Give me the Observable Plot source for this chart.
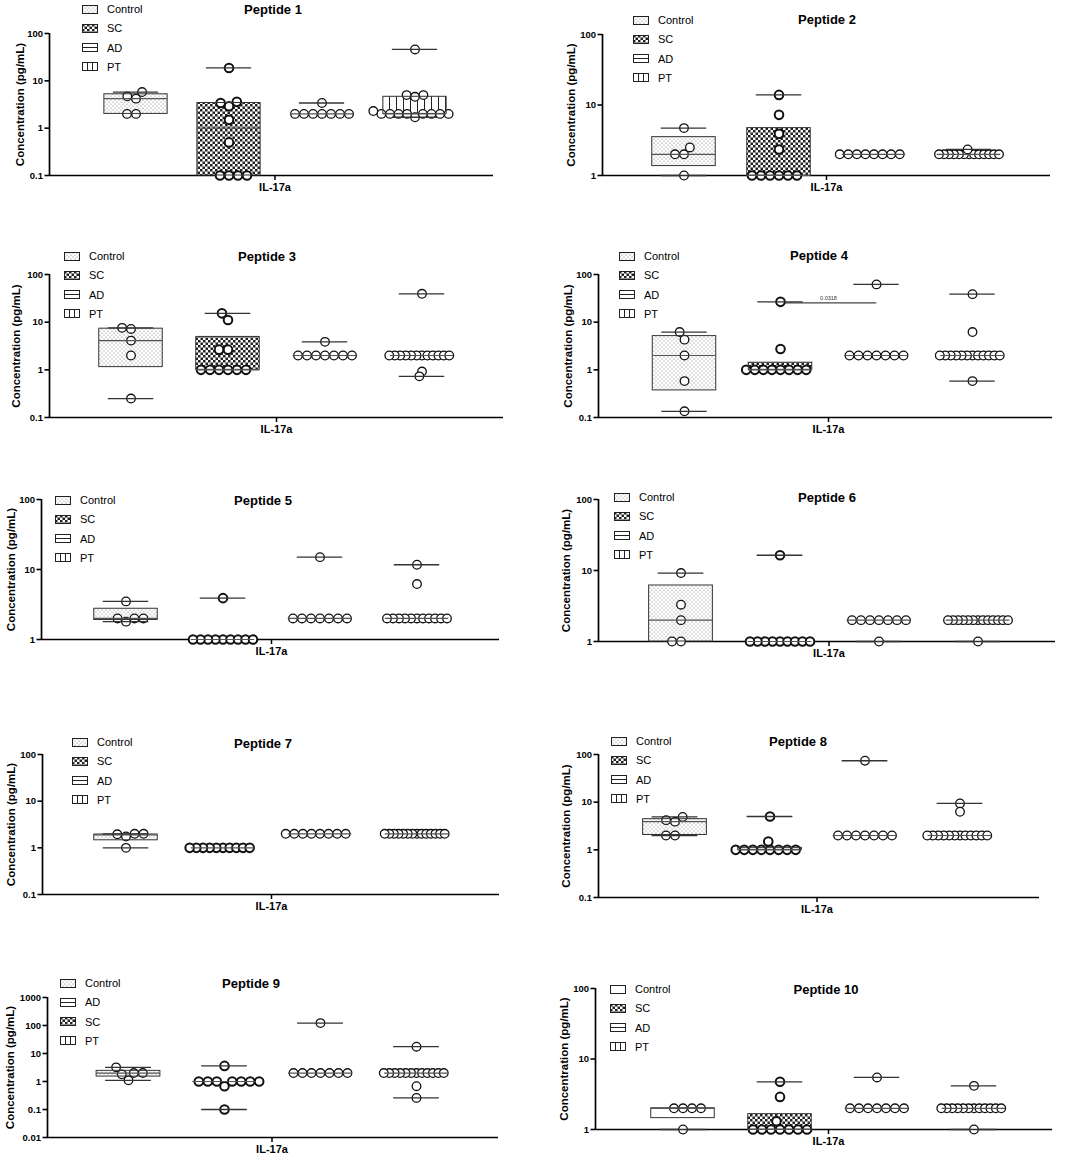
<!DOCTYPE html>
<html>
<head>
<meta charset="utf-8">
<script src="https://cdn.jsdelivr.net/npm/d3@7"></script>
<script src="https://cdn.jsdelivr.net/npm/@observablehq/plot@0.6"></script>
<style>
  body { margin: 0; background: #fff; font-family: "Liberation Sans", Arial, Helvetica, sans-serif; }
  #page { position: relative; width: 1084px; height: 1156px; overflow: hidden; background: #fff; }
  .panel { position: absolute; }
  .panel > svg { position: absolute; left: 0; top: 0; overflow: visible; }
  .title { position: absolute; font-weight: bold; font-size: 13px; transform: translate(-50%, -50%); white-space: nowrap; color: #000; }
  .leg { position: absolute; font-size: 11px; display: flex; align-items: center; transform: translateY(-50%); white-space: nowrap; color: #000; }
  .leg svg { margin-right: 9px; display: block; }
</style>
</head>
<body>
<svg width="0" height="0" style="position:absolute;left:0;top:0">
  <defs>
    <pattern id="pat-dots" patternUnits="userSpaceOnUse" width="4" height="4">
      <rect width="4" height="4" fill="#fff"/>
      <circle cx="1" cy="1" r="0.6" fill="#777"/>
      <circle cx="3" cy="3" r="0.6" fill="#777"/>
    </pattern>
    <pattern id="pat-check" patternUnits="userSpaceOnUse" width="5" height="5">
      <rect width="5" height="5" fill="#fff"/>
      <rect width="2.5" height="2.5" fill="#222"/>
      <rect x="2.5" y="2.5" width="2.5" height="2.5" fill="#222"/>
    </pattern>
    <pattern id="pat-hlines" patternUnits="userSpaceOnUse" width="4" height="5">
      <rect width="4" height="5" fill="#fff"/>
      <line x1="0" x2="4" y1="2.5" y2="2.5" stroke="#333" stroke-width="1"/>
    </pattern>
    <pattern id="pat-vlines" patternUnits="userSpaceOnUse" width="7" height="4">
      <rect width="7" height="4" fill="#fff"/>
      <line x1="3.5" x2="3.5" y1="0" y2="4" stroke="#222" stroke-width="1"/>
    </pattern>
    <pattern id="pat-plain" patternUnits="userSpaceOnUse" width="4" height="4">
      <rect width="4" height="4" fill="#fff"/>
    </pattern>
  </defs>
</svg>
<div id="page"></div>
<script>
// ---------------- DATA ----------------
const groups = ["Control", "SC", "AD", "PT"];
const legendLabels = ["Control", "SC", "AD", "PT"];
const legendLabels9 = ["Control", "AD", "SC", "PT"];
const xLabel = "IL-17a";
const yLabel = "Concentration (pg/mL)";

const ticksA = [0.1, 1, 10, 100];
const tickLabelsA = ["0.1", "1", "10", "100"];
const ticksB = [1, 10, 100];
const tickLabelsB = ["1", "10", "100"];
const ticksC = [0.01, 0.1, 1, 10, 100, 1000];
const tickLabelsC = ["0.01", "0.1", "1", "10", "100", "1000"];

// points per group: Control, SC, AD, PT
// boxes per group: [q1, median, q3, min, max]
const peptide1Points = [
  [2, 2, 4.2, 4.7, 5.8],
  [0.1, 0.1, 0.1, 0.1, 0.5, 1.5, 2.9, 3.4, 3.6, 18.7],
  [2, 2, 2, 2, 2, 2, 2, 3.4],
  [1.7, 2, 2, 2, 2, 2, 2, 2, 2, 2.3, 4.6, 5, 5, 46]
];
const peptide1Boxes = [[2, 4.2, 5.2, 2, 5.8], [0.1, 1, 3.4, 0.1, 18.7], [2, 2, 2, 2, 3.4], [2, 2, 4.6, 1.7, 46]];

const peptide2Points = [
  [1, 2, 2, 2.5, 4.7],
  [1, 1, 1, 1, 1, 1, 2.34, 3.9, 7.25, 13.9],
  [2, 2, 2, 2, 2, 2, 2, 2],
  [2, 2, 2, 2, 2, 2, 2, 2, 2, 2, 2, 2, 2, 2.34]
];
const peptide2Boxes = [[1.36, 2, 3.5, 1, 4.7], [1, 1, 4.7, 1, 13.9], [2, 2, 2, 2, 2], [2, 2, 2, 2, 2.34]];

const peptide3Points = [
  [0.25, 2, 4.1, 7.2, 7.6],
  [1, 1, 1, 1, 1, 1, 2.65, 2.65, 11.1, 15.3],
  [2, 2, 2, 2, 2, 2, 2, 3.86],
  [2, 2, 2, 2, 2, 2, 2, 2, 2, 2, 2, 2, 39.4, 0.92, 0.73]
];
const peptide3Boxes = [[1.14, 4.1, 7.3, 0.25, 7.6], [1, 1, 4.9, 1, 15.3], [2, 2, 2, 2, 3.86], [2, 2, 2, 0.73, 39.4]];

const peptide4Points = [
  [0.135, 0.58, 2, 4.3, 6.2],
  [1, 1, 1, 1, 1, 1, 1, 1, 2.73, 26.7],
  [2, 2, 2, 2, 2, 2, 2, 62],
  [2, 2, 2, 2, 2, 2, 2, 2, 2, 2, 2, 2, 38.7, 6.2, 0.58]
];
const peptide4Boxes = [[0.37, 2, 5.1, 0.135, 6.2], [1, 1, 1.41, 1, 26.7], [2, 2, 2, 2, 62], [2, 2, 2, 0.58, 38.7]];
const peptide4Significance = {from: "SC", to: "AD", value: 25.4, label: "0.0318"};

const peptide5Points = [
  [1.8, 2, 2, 2, 3.5],
  [1, 1, 1, 1, 1, 1, 1, 1, 1, 3.9],
  [2, 2, 2, 2, 2, 2, 2, 15],
  [2, 2, 2, 2, 2, 2, 2, 2, 2, 2, 2, 11.7, 6.2]
];
const peptide5Boxes = [[1.9, 2, 2.75, 1.8, 3.5], [1, 1, 1, 1, 3.9], [2, 2, 2, 2, 15], [2, 2, 2, 2, 11.7]];

const peptide6Points = [
  [1, 1, 2, 3.3, 9.2],
  [1, 1, 1, 1, 1, 1, 1, 1, 1, 16.4],
  [2, 2, 2, 2, 2, 2, 2, 1],
  [2, 2, 2, 2, 2, 2, 2, 2, 2, 2, 2, 2, 2, 1]
];
const peptide6Boxes = [[1, 2, 6.15, 1, 9.2], [1, 1, 1, 1, 16.4], [2, 2, 2, 1, 2], [2, 2, 2, 1, 2]];

const peptide7Points = [
  [1, 1.75, 1.95, 2, 2],
  [1, 1, 1, 1, 1, 1, 1, 1, 1, 1],
  [2, 2, 2, 2, 2, 2, 2, 2],
  [2, 2, 2, 2, 2, 2, 2, 2, 2, 2, 2, 2, 2, 2]
];
const peptide7Boxes = [[1.45, 1.9, 1.93, 1, 2], [1, 1, 1, 1, 1], [2, 2, 2, 2, 2], [2, 2, 2, 2, 2]];

const peptide8Points = [
  [2, 2, 3.9, 4.2, 4.9],
  [1, 1, 1, 1, 1, 1, 1, 1, 1.5, 5],
  [2, 2, 2, 2, 2, 2, 2, 74],
  [2, 2, 2, 2, 2, 2, 2, 2, 2, 2, 2, 2, 9.4, 6.3]
];
const peptide8Boxes = [[2.05, 3.9, 4.4, 2, 4.9], [1, 1, 1.1, 1, 5], [2, 2, 2, 2, 74], [2, 2, 2, 2, 9.4]];

const peptide9Points = [
  [1.1, 1.8, 2, 2, 3.2],
  [0.68, 1, 1, 1, 1, 1, 1, 1, 3.6, 0.1],
  [2, 2, 2, 2, 2, 2, 2, 122],
  [2, 2, 2, 2, 2, 2, 2, 2, 2, 2, 2, 2, 17.5, 0.68, 0.26]
];
const peptide9Boxes = [[1.5, 2, 2.4, 1.1, 3.2], [1, 1, 1, 0.1, 3.6], [2, 2, 2, 2, 122], [2, 2, 2, 0.26, 17.5]];

const peptide10Points = [
  [2, 2, 2, 2, 1],
  [1, 1, 1, 1, 1, 1, 1, 1.31, 2.9, 4.75],
  [2, 2, 2, 2, 2, 2, 2, 5.47],
  [2, 2, 2, 2, 2, 2, 2, 2, 2, 2, 2, 2, 4.16, 1]
];
const peptide10Boxes = [[1.45, 2, 2, 1, 2], [1, 1, 1.65, 1, 4.75], [2, 2, 2, 2, 5.47], [2, 2, 2, 1, 4.16]];

// ---------------- LAYOUT / STYLE ----------------
const FONT = '"Liberation Sans", Arial, Helvetica, sans-serif';
const COL_W = 542;
const BOX_W = 64, CAP_W = 46, R = 4.3;
const patternsDefault = {Control: "dots", SC: "check", AD: "hlines", PT: "vlines"};
const patterns10 = {Control: "plain", SC: "check", AD: "hlines", PT: "vlines"};

const layout = [
  {col: 0, Xa: 49,  Xr: 493,  Yt: 33,  Yb: 175,  padL: 38, padR: 31, title: [273, 9],   legend: [82, 9],    yTitleX: 20},
  {col: 1, Xa: 602, Xr: 1050, Yt: 34,  Yb: 175,  padL: 33, padR: 33, title: [827, 19],  legend: [633, 20],   yTitleX: 571},
  {col: 0, Xa: 49,  Xr: 503,  Yt: 274, Yb: 417,  padL: 32, padR: 32, title: [267, 256], legend: [64, 256],   yTitleX: 16},
  {col: 1, Xa: 598, Xr: 1052, Yt: 274, Yb: 417,  padL: 37, padR: 31, title: [819, 255], legend: [619, 256],  yTitleX: 568},
  {col: 0, Xa: 41,  Xr: 499,  Yt: 499, Yb: 639,  padL: 35, padR: 33, title: [263, 500], legend: [55, 500],   yTitleX: 11},
  {col: 1, Xa: 598, Xr: 1055, Yt: 499, Yb: 641,  padL: 32, padR: 28, title: [827, 497], legend: [614, 497],  yTitleX: 566},
  {col: 0, Xa: 42,  Xr: 499,  Yt: 754, Yb: 894,  padL: 34, padR: 33, title: [263, 743], legend: [72, 742],   yTitleX: 11},
  {col: 1, Xa: 598, Xr: 1039, Yt: 754, Yb: 897,  padL: 28, padR: 32, title: [798, 741], legend: [611, 741],  yTitleX: 566},
  {col: 0, Xa: 47,  Xr: 498,  Yt: 997, Yb: 1137, padL: 32, padR: 34, title: [251, 983], legend: [60, 983],   yTitleX: 9.5},
  {col: 1, Xa: 595, Xr: 1052, Yt: 988, Yb: 1129, padL: 38, padR: 29, title: [826, 989], legend: [610, 989],  yTitleX: 564}
];

const panels = [
  {name: "Peptide 1",  points: peptide1Points,  boxes: peptide1Boxes,  domain: [0.1, 100],   ticks: ticksA, tickLabels: tickLabelsA, legend: legendLabels,  patterns: patternsDefault},
  {name: "Peptide 2",  points: peptide2Points,  boxes: peptide2Boxes,  domain: [1, 100],     ticks: ticksB, tickLabels: tickLabelsB, legend: legendLabels,  patterns: patternsDefault},
  {name: "Peptide 3",  points: peptide3Points,  boxes: peptide3Boxes,  domain: [0.1, 100],   ticks: ticksA, tickLabels: tickLabelsA, legend: legendLabels,  patterns: patternsDefault},
  {name: "Peptide 4",  points: peptide4Points,  boxes: peptide4Boxes,  domain: [0.1, 100],   ticks: ticksA, tickLabels: tickLabelsA, legend: legendLabels,  patterns: patternsDefault, annotation: peptide4Significance},
  {name: "Peptide 5",  points: peptide5Points,  boxes: peptide5Boxes,  domain: [1, 100],     ticks: ticksB, tickLabels: tickLabelsB, legend: legendLabels,  patterns: patternsDefault},
  {name: "Peptide 6",  points: peptide6Points,  boxes: peptide6Boxes,  domain: [1, 100],     ticks: ticksB, tickLabels: tickLabelsB, legend: legendLabels,  patterns: patternsDefault},
  {name: "Peptide 7",  points: peptide7Points,  boxes: peptide7Boxes,  domain: [0.1, 100],   ticks: ticksA, tickLabels: tickLabelsA, legend: legendLabels,  patterns: patternsDefault},
  {name: "Peptide 8",  points: peptide8Points,  boxes: peptide8Boxes,  domain: [0.1, 100],   ticks: ticksA, tickLabels: tickLabelsA, legend: legendLabels,  patterns: patternsDefault},
  {name: "Peptide 9",  points: peptide9Points,  boxes: peptide9Boxes,  domain: [0.01, 1000], ticks: ticksC, tickLabels: tickLabelsC, legend: legendLabels9, patterns: patternsDefault},
  {name: "Peptide 10", points: peptide10Points, boxes: peptide10Boxes, domain: [1, 100],     ticks: ticksB, tickLabels: tickLabelsB, legend: legendLabels,  patterns: patterns10}
];

// ---------------- DRAW ----------------
const page = document.getElementById("page");

function multiplicity(vals) {
  const m = d3.rollup(vals, (v) => v.length, (d) => d);
  return d3.max(m.values());
}

function swatch(p) {
  const fill = (p === "hlines" || p === "vlines" || p === "plain") ? "#fff" : `url(#pat-${p})`;
  let inner = `<rect x="0.5" y="0.5" width="15" height="8" fill="${fill}" stroke="#222" stroke-width="1"/>`;
  if (p === "hlines") inner += `<line x1="0.5" x2="15.5" y1="4.5" y2="4.5" stroke="#222" stroke-width="1"/>`;
  if (p === "vlines") inner += `<line x1="5.5" x2="5.5" y1="0.5" y2="8.5" stroke="#222"/><line x1="10.5" x2="10.5" y1="0.5" y2="8.5" stroke="#222"/>`;
  return `<svg width="16" height="9" viewBox="0 0 16 9">${inner}</svg>`;
}

function drawPanel(p, idx) {
  const L = layout[idx];
  const colLeft = L.col * COL_W;
  const mt = 14, mb = 26;
  const H = L.Yb - L.Yt + mt + mb;
  const mL = L.Xa - colLeft, mR = colLeft + COL_W - L.Xr;
  const n = groups.length;
  const step = (L.Xr - L.Xa - L.padL - L.padR) / n;
  const boxInset = (step - BOX_W) / 2, capInset = (step - CAP_W) / 2;
  const x0 = -L.padL / step, x1 = n + L.padR / step;
  const ymin = p.domain[0];

  const boxT = p.boxes.map((b, i) => ({group: groups[i], q1: b[0], med: b[1], q3: b[2], lo: b[3], hi: b[4]}));
  const ptsT = p.points.flatMap((vals, i) => vals.map((v) => ({group: groups[i], value: v})));

  const div = document.createElement("div");
  div.className = "panel";
  div.style.left = colLeft + "px";
  div.style.top = (L.Yt - mt) + "px";
  div.style.width = COL_W + "px";
  div.style.height = H + "px";
  page.appendChild(div);

  const annMarks = [];
  if (p.annotation) {
    const a = p.annotation;
    const xa = groups.indexOf(a.from) + 0.5, xb = groups.indexOf(a.to) + 0.5;
    annMarks.push(
      Plot.ruleY([a.value], {x1: xa, x2: xb, stroke: "#444", strokeWidth: 1.2}),
      Plot.text([a.label], {x: (xa + xb) / 2, y: a.value, dy: -5, fontSize: 5.5, fontWeight: "normal", fill: "#333"})
    );
  }

  const axes = Plot.plot({
    width: COL_W, height: H,
    marginLeft: mL, marginRight: mR, marginTop: mt, marginBottom: mb,
    style: {background: "transparent", overflow: "visible", fontFamily: FONT, fontSize: "9.5px", fontWeight: "bold", color: "#000"},
    x: {domain: [x0, x1], axis: null},
    y: {type: "log", domain: p.domain, axis: null},
    marks: [
      Plot.axisY({ticks: p.ticks, tickFormat: (d) => p.tickLabels[p.ticks.indexOf(d)], tickSize: 4.5, tickPadding: 2, strokeWidth: 1.6, label: null}),
      Plot.ruleX([x0], {strokeWidth: 1.7}),
      Plot.ruleY([ymin], {strokeWidth: 1.7}),
      Plot.ruleX([n / 2], {y1: ymin, y2: ymin, insetBottom: -5, strokeWidth: 1.5}),
      Plot.text([xLabel], {x: n / 2, y: ymin, dy: 12, fontSize: 11}),
      Plot.text([yLabel], {frameAnchor: "left", textAnchor: "middle", rotate: -90, dx: -(L.Xa - L.yTitleX), fontSize: 11.5}),
      ...annMarks
    ]
  });

  const dotMarks = groups.map((g) => {
    const vals = ptsT.filter((d) => d.group === g);
    const k = multiplicity(vals.map((d) => d.value));
    const sep = k > 1 ? Math.min(2 * R + 0.4, 60 / (k - 1)) : 2 * R + 0.4;
    return Plot.dot(vals, Plot.dodgeX({anchor: "middle", padding: sep - 2 * R}, {
      fx: "group", y: "value", r: R, fill: "white", stroke: "#111", strokeWidth: g === "SC" ? 2 : 1.3
    }));
  });

  const upper = boxT.filter((d) => d.hi > d.q3);
  const lower = boxT.filter((d) => d.lo < d.q1);

  const dataLayer = Plot.plot({
    width: COL_W, height: H,
    marginLeft: mL + L.padL, marginRight: mR + L.padR, marginTop: mt, marginBottom: mb,
    style: {background: "transparent", overflow: "visible"},
    fx: {domain: groups, padding: 0, axis: null},
    y: {type: "log", domain: p.domain, axis: null},
    marks: [
      ...groups.map((g) => Plot.barY(boxT.filter((d) => d.group === g), {
        fx: "group", y1: "q1", y2: "q3", fill: `url(#pat-${p.patterns[g]})`, insetLeft: boxInset, insetRight: boxInset
      })),
      ...dotMarks,
      Plot.barY(boxT, {fx: "group", y1: "q1", y2: "q3", fill: "none", stroke: "#333", strokeWidth: 1, insetLeft: boxInset, insetRight: boxInset}),
      Plot.tickY(boxT, {fx: "group", y: "med", stroke: "#555", strokeWidth: 1.2, insetLeft: boxInset, insetRight: boxInset}),
      Plot.ruleX(upper, {fx: "group", y1: "q3", y2: "hi", stroke: "#555", strokeWidth: 1.3}),
      Plot.ruleX(lower, {fx: "group", y1: "lo", y2: "q1", stroke: "#555", strokeWidth: 1.3}),
      Plot.tickY(upper, {fx: "group", y: "hi", stroke: "#333", strokeWidth: 1.3, insetLeft: capInset, insetRight: capInset}),
      Plot.tickY(lower, {fx: "group", y: "lo", stroke: "#333", strokeWidth: 1.3, insetLeft: capInset, insetRight: capInset})
    ]
  });

  div.appendChild(axes);
  div.appendChild(dataLayer);

  const t = document.createElement("div");
  t.className = "title";
  t.style.left = L.title[0] + "px";
  t.style.top = L.title[1] + "px";
  t.textContent = p.name;
  page.appendChild(t);

  p.legend.forEach((lab, i) => {
    const el = document.createElement("div");
    el.className = "leg";
    el.style.left = L.legend[0] + "px";
    el.style.top = (L.legend[1] + i * 19.3) + "px";
    el.innerHTML = swatch(p.patterns[lab]) + `<span>${lab}</span>`;
    page.appendChild(el);
  });
}

panels.forEach(drawPanel);
</script>
</body>
</html>
